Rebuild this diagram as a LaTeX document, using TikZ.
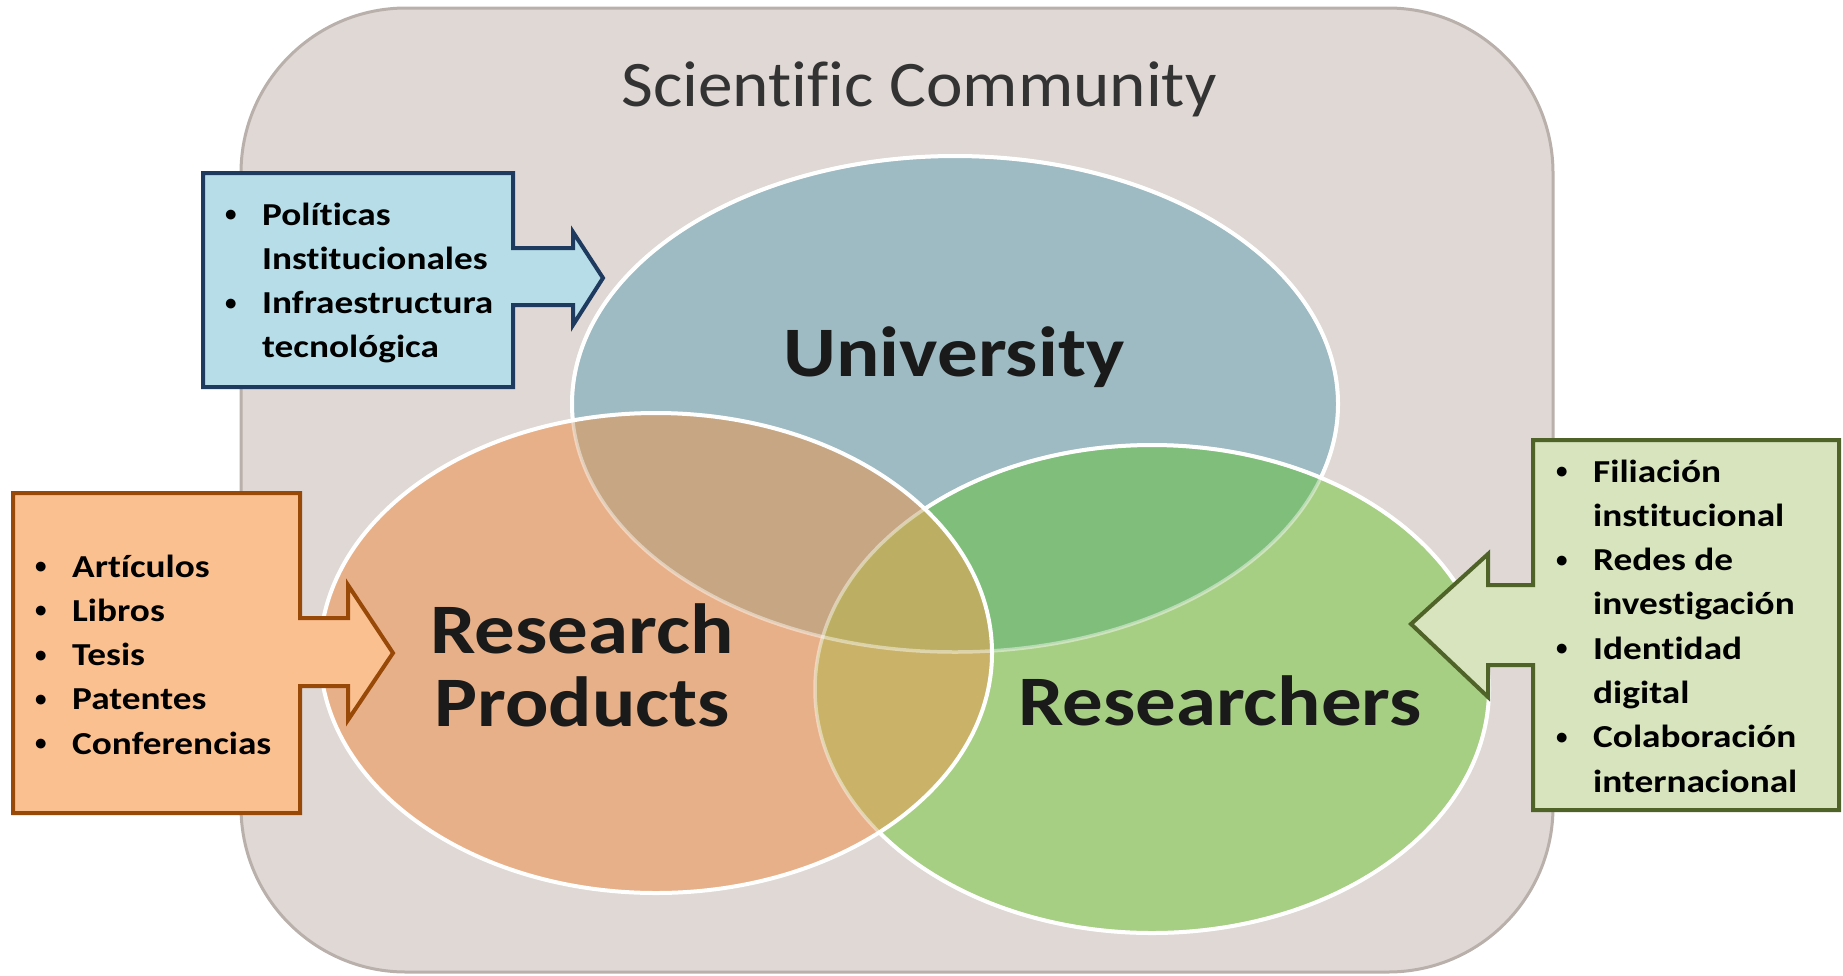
\documentclass[tikz,border=0pt]{standalone}
\usepackage{fontspec}
\usepackage{graphicx}
\setmainfont{Carlito}[Ligatures=NoCommon]
\definecolor{bgc}{HTML}{DFD8D4}
\definecolor{bgb}{HTML}{B9B0AB}
\definecolor{ucol}{HTML}{9EBBC3}
\definecolor{ocol}{HTML}{E8B088}
\definecolor{gcol}{HTML}{A7CF84}
\definecolor{gucol}{HTML}{7FBF7B}
\definecolor{oucol}{HTML}{C6A683}
\definecolor{ogcol}{HTML}{CAB368}
\definecolor{ogucol}{HTML}{BCAE63}
\definecolor{bfill}{HTML}{B7DEE8}
\definecolor{bline}{HTML}{1F3A5F}
\definecolor{ofill}{HTML}{FAC090}
\definecolor{oline}{HTML}{984807}
\definecolor{gfill}{HTML}{D7E4BD}
\definecolor{gline}{HTML}{4F6228}
\definecolor{txt}{HTML}{1A1A1A}
\definecolor{txttitle}{HTML}{333333}
\def\ellU{(955,404) ellipse [x radius=383, y radius=248]}
\def\ellO{(656,653) ellipse [x radius=336, y radius=240]}
\def\ellG{(1152,689) ellipse [x radius=337, y radius=244]}
\def\outside{(-100,-100) rectangle (2000,1100)}
\newcommand{\lsx}[1]{\scalebox{1.165}[1]{#1}}
\newcommand{\bsx}[1]{\scalebox{1.14}[1]{#1}}
\newcommand{\bul}{\makebox[38pt][l]{\hspace*{1pt}\raisebox{3.5pt}{\fontsize{23}{23}\selectfont •}}}
\newcommand{\nob}{\hspace*{38pt}}
\begin{document}
\begin{tikzpicture}[x=1pt,y=-1pt,
  faint/.style={draw=white, line width=3.5pt, draw opacity=0.45},
  strong/.style={draw=white, line width=4pt},
  callout/.style={line width=4pt, line join=miter},
  biglabel/.style={font=\fontsize{71}{73}\selectfont\bfseries, text=txt, inner sep=0pt, anchor=base},
  listtext/.style={font=\fontsize{32}{44.3}\selectfont\bfseries, text=black, inner sep=0pt, anchor=base west},
]
\useasboundingbox (0,0) rectangle (1843,975);
% community container
\node[draw=bgb, fill=bgc, line width=3pt, rounded corners=165pt,
      minimum width=1312pt, minimum height=964pt, inner sep=0pt] (community) at (897,490) {};
\node[font=\fontsize{65}{70}\selectfont, text=txttitle, anchor=base, inner sep=0pt] (title) at (919,106) {\scalebox{1.065}[1]{Scientific Community}};
% ellipse fills
\fill[ucol] \ellU;
\fill[ocol] \ellO;
\fill[gcol] \ellG;
\begin{scope}
  \clip \ellG;
  \fill[gucol] \ellU;
\end{scope}
\begin{scope}
  \clip \ellO;
  \fill[oucol] \ellU;
  \fill[ogcol] \ellG;
  \clip \ellG;
  \fill[ogucol] \ellU;
\end{scope}
% outlines
\draw[faint] \ellU;
\draw[faint] \ellG;
\begin{scope}[even odd rule]
  \clip \outside \ellO;
  \draw[strong] \ellG;
  \begin{scope}[even odd rule]
    \clip \outside \ellG;
    \draw[strong] \ellU;
  \end{scope}
\end{scope}
\draw[strong] \ellO;
% labels
\node[biglabel] (univ) at (954,376) {\bsx{University}};
\node[biglabel] (rp1) at (582,653) {\bsx{Research}};
\node[biglabel] (rp2) at (582,726) {\bsx{Products}};
\node[biglabel] (res) at (1220,725) {\bsx{Researchers}};
% blue callout
\coordinate (btip) at (603,278);
\draw[callout, draw=bline, fill=bfill] (203,173) -- (513,173) -- (513,248) -- (573,248) -- (573,232) -- (btip)
  -- (573,325) -- (573,305) -- (513,305) -- (513,387) -- (203,387) -- cycle;
\node[listtext] (blist) at (224,225) {\begin{tabular}[t]{@{}l@{}}
\bul\lsx{Políticas}\\
\nob\lsx{Institucionales}\\
\bul\lsx{Infraestructura}\\
\nob\lsx{tecnológica}
\end{tabular}};
% orange callout
\coordinate (otip) at (393,653);
\draw[callout, draw=oline, fill=ofill] (13,493) -- (300,493) -- (300,618) -- (348,618) -- (348,585) -- (otip)
  -- (348,720) -- (348,686) -- (300,686) -- (300,813) -- (13,813) -- cycle;
\node[listtext] (olist) at (34,577) {\begin{tabular}[t]{@{}l@{}}
\bul\lsx{Artículos}\\
\bul\lsx{Libros}\\
\bul\lsx{Tesis}\\
\bul\lsx{Patentes}\\
\bul\lsx{Conferencias}
\end{tabular}};
% green callout
\coordinate (gtip) at (1411,624);
\draw[callout, draw=gline, fill=gfill] (1533,440) -- (1839,440) -- (1839,810) -- (1533,810) -- (1533,665) -- (1488,665)
  -- (1488,697) -- (gtip) -- (1488,554) -- (1488,585) -- (1533,585) -- cycle;
\node[listtext] (glist) at (1555,482) {\begin{tabular}[t]{@{}l@{}}
\bul\lsx{Filiación}\\
\nob\lsx{institucional}\\
\bul\lsx{Redes de}\\
\nob\lsx{investigación}\\
\bul\lsx{Identidad}\\
\nob\lsx{digital}\\
\bul\lsx{Colaboración}\\
\nob\lsx{internacional}
\end{tabular}};
\end{tikzpicture}
\end{document}
